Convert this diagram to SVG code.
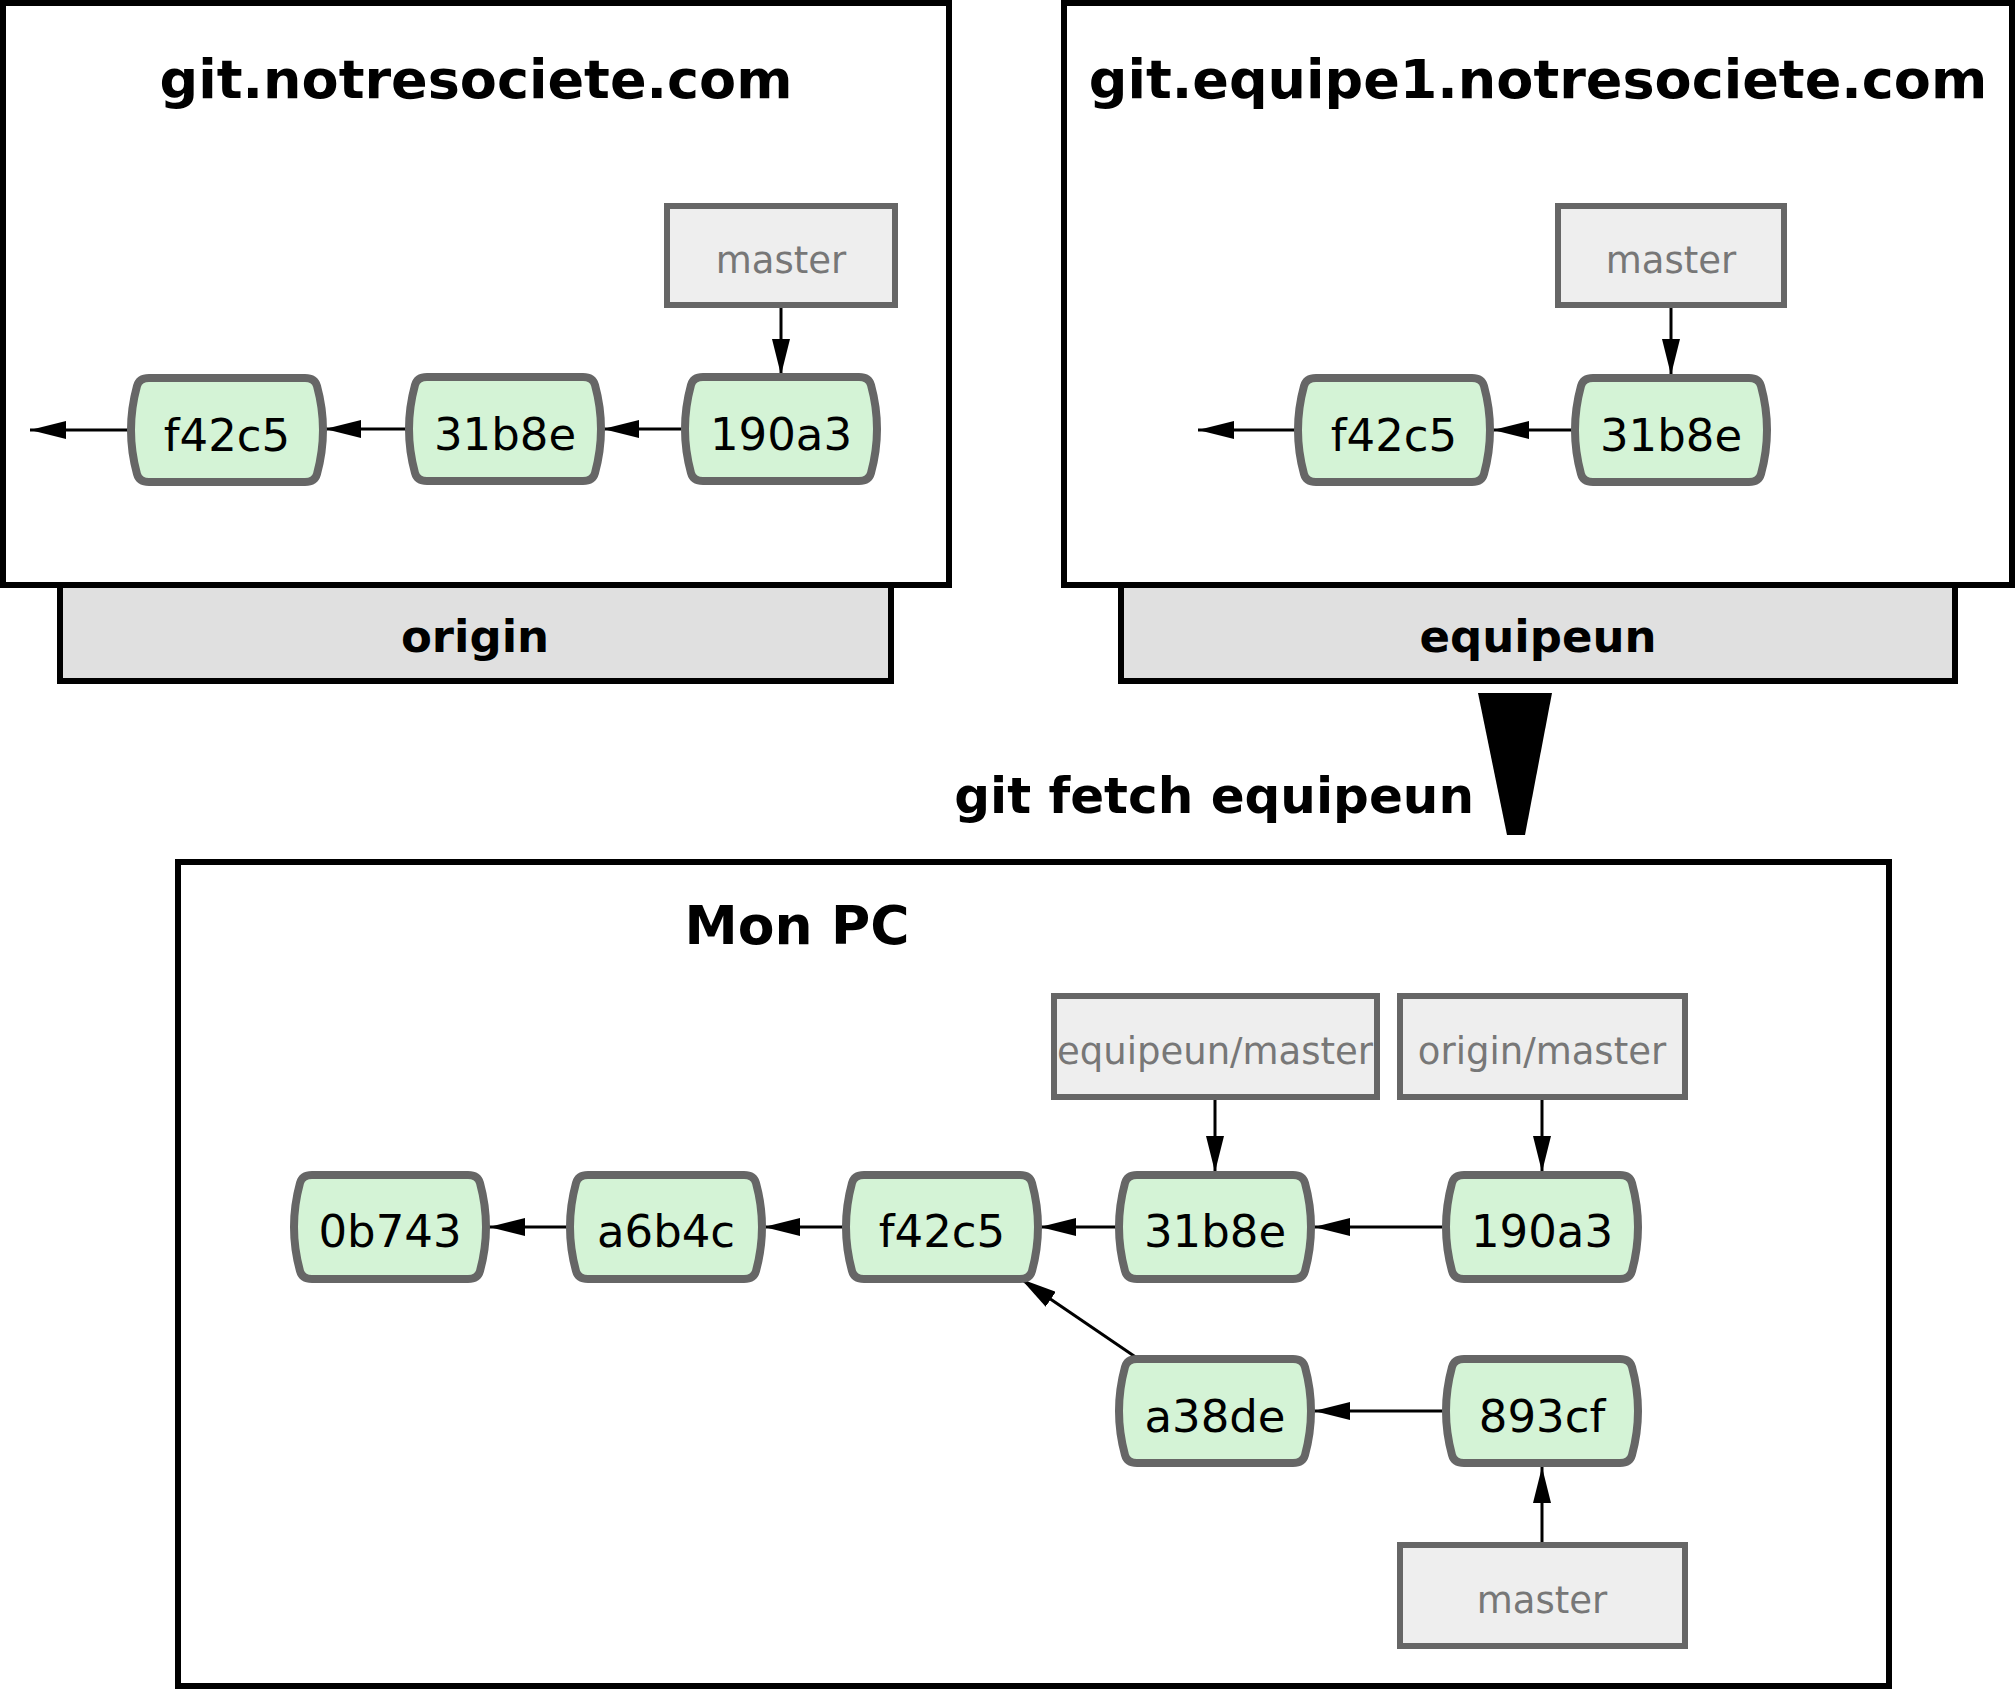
<svg xmlns="http://www.w3.org/2000/svg" xmlns:xlink="http://www.w3.org/1999/xlink" width="2015" height="1689" viewBox="0 0 2015 1689">
<defs>
<style>
.frame{fill:#ffffff;stroke:#000000;stroke-width:6}
.bar{fill:#e0e0e0;stroke:#000000;stroke-width:6}
.title{font-family:"DejaVu Sans",sans-serif;font-weight:bold;font-size:54px;fill:#000;text-anchor:middle}
.rname{font-family:"DejaVu Sans",sans-serif;font-weight:bold;font-size:45px;fill:#000;text-anchor:middle}
.commit{fill:#d4f3d6;stroke:#666666;stroke-width:8}
.ctext{font-family:"DejaVu Sans",sans-serif;font-size:45px;fill:#000;text-anchor:middle}
.branch{fill:#eeeeee;stroke:#666666;stroke-width:6}
.btext{font-family:"DejaVu Sans",sans-serif;font-size:37px;fill:#777777;text-anchor:middle}
.edge{stroke:#000;stroke-width:3;fill:none;marker-end:url(#arr)}
</style>
<marker id="arr" viewBox="0 0 36 18" refX="36" refY="9" markerWidth="36" markerHeight="18" markerUnits="userSpaceOnUse" orient="auto"><path d="M0,0 L36,9 L0,18 Z" fill="#000"/></marker>
<path id="cshape" d="M -78,-52 H 78 Q 87.8,-52 90,-44 Q 102,0 90,44 Q 87.8,52 78,52 H -78 Q -87.8,52 -90,44 Q -102,0 -90,-44 Q -87.8,-52 -78,-52 Z"/>
</defs>

<!-- top-left server -->
<g id="server-origin">
<rect class="bar" x="60" y="585" width="831" height="96"/>
<rect class="frame" x="3" y="3" width="946" height="582"/>
<text class="title" x="476" y="98">git.notresociete.com</text>
<text class="rname" x="475" y="652">origin</text>
</g>

<!-- top-right server -->
<g id="server-equipeun">
<rect class="bar" x="1121" y="585" width="834" height="96"/>
<rect class="frame" x="1064" y="3" width="948" height="582"/>
<text class="title" x="1538" y="98">git.equipe1.notresociete.com</text>
<text class="rname" x="1538" y="652">equipeun</text>
</g>

<!-- local machine -->
<g id="mon-pc">
<rect class="frame" x="178" y="862" width="1711" height="824"/>
<text class="title" x="797" y="944" style="font-size:53.5px">Mon PC</text>
</g>

<!-- fetch arrow and label -->
<g id="fetch">
<polygon points="1478,693 1552,693 1525,835 1507,835" fill="#000"/>
<text x="1474" y="813" style="font-family:'DejaVu Sans',sans-serif;font-weight:bold;font-size:50px;text-anchor:end">git fetch equipeun</text>
</g>

<!-- connectors -->
<g id="connectors">
<line class="edge" x1="781" y1="308" x2="781" y2="375"/>
<line class="edge" x1="681" y1="429" x2="603" y2="429"/>
<line class="edge" x1="407" y1="429" x2="325" y2="429"/>
<line class="edge" x1="129" y1="430" x2="30" y2="430"/>

<line class="edge" x1="1671" y1="308" x2="1671" y2="375"/>
<line class="edge" x1="1573" y1="430" x2="1493" y2="430"/>
<line class="edge" x1="1295" y1="430" x2="1198" y2="430"/>

<line class="edge" x1="1215" y1="1099" x2="1215" y2="1172"/>
<line class="edge" x1="1542" y1="1099" x2="1542" y2="1172"/>
<line class="edge" x1="1442" y1="1227" x2="1314" y2="1227"/>
<line class="edge" x1="1117" y1="1227" x2="1040" y2="1227"/>
<line class="edge" x1="844" y1="1227" x2="764" y2="1227"/>
<line class="edge" x1="568" y1="1227" x2="489" y2="1227"/>
<line class="edge" x1="1442" y1="1411" x2="1314" y2="1411"/>
<line class="edge" x1="1137" y1="1358" x2="1021" y2="1279"/>
<line class="edge" x1="1542" y1="1545" x2="1542" y2="1467"/>
</g>

<!-- top-left nodes -->
<g id="tl-master"><rect class="branch" x="667" y="206" width="228" height="99"/><text class="btext" x="781" y="273">master</text></g>
<g id="tl-190a3"><use xlink:href="#cshape" class="commit" x="781" y="429"/><text class="ctext" x="781" y="450">190a3</text></g>
<g id="tl-31b8e"><use xlink:href="#cshape" class="commit" x="505" y="429"/><text class="ctext" x="505" y="450">31b8e</text></g>
<g id="tl-f42c5"><use xlink:href="#cshape" class="commit" x="227" y="430"/><text class="ctext" x="227" y="451">f42c5</text></g>

<!-- top-right nodes -->
<g id="tr-master"><rect class="branch" x="1558" y="206" width="226" height="99"/><text class="btext" x="1671" y="273">master</text></g>
<g id="tr-31b8e"><use xlink:href="#cshape" class="commit" x="1671" y="430"/><text class="ctext" x="1671" y="451">31b8e</text></g>
<g id="tr-f42c5"><use xlink:href="#cshape" class="commit" x="1394" y="430"/><text class="ctext" x="1394" y="451">f42c5</text></g>

<!-- local nodes -->
<g id="pc-equipeun-master"><rect class="branch" x="1054" y="996" width="323" height="101"/><text class="btext" x="1215" y="1064">equipeun/master</text></g>
<g id="pc-origin-master"><rect class="branch" x="1400" y="996" width="285" height="101"/><text class="btext" x="1542" y="1064">origin/master</text></g>
<g id="pc-0b743"><use xlink:href="#cshape" class="commit" x="390" y="1227"/><text class="ctext" x="390" y="1247">0b743</text></g>
<g id="pc-a6b4c"><use xlink:href="#cshape" class="commit" x="666" y="1227"/><text class="ctext" x="666" y="1247">a6b4c</text></g>
<g id="pc-f42c5"><use xlink:href="#cshape" class="commit" x="942" y="1227"/><text class="ctext" x="942" y="1247">f42c5</text></g>
<g id="pc-31b8e"><use xlink:href="#cshape" class="commit" x="1215" y="1227"/><text class="ctext" x="1215" y="1247">31b8e</text></g>
<g id="pc-190a3"><use xlink:href="#cshape" class="commit" x="1542" y="1227"/><text class="ctext" x="1542" y="1247">190a3</text></g>
<g id="pc-a38de"><use xlink:href="#cshape" class="commit" x="1215" y="1411"/><text class="ctext" x="1215" y="1432">a38de</text></g>
<g id="pc-893cf"><use xlink:href="#cshape" class="commit" x="1542" y="1411"/><text class="ctext" x="1542" y="1432">893cf</text></g>
<g id="pc-master"><rect class="branch" x="1400" y="1545" width="285" height="101"/><text class="btext" x="1542" y="1613">master</text></g>
</svg>
